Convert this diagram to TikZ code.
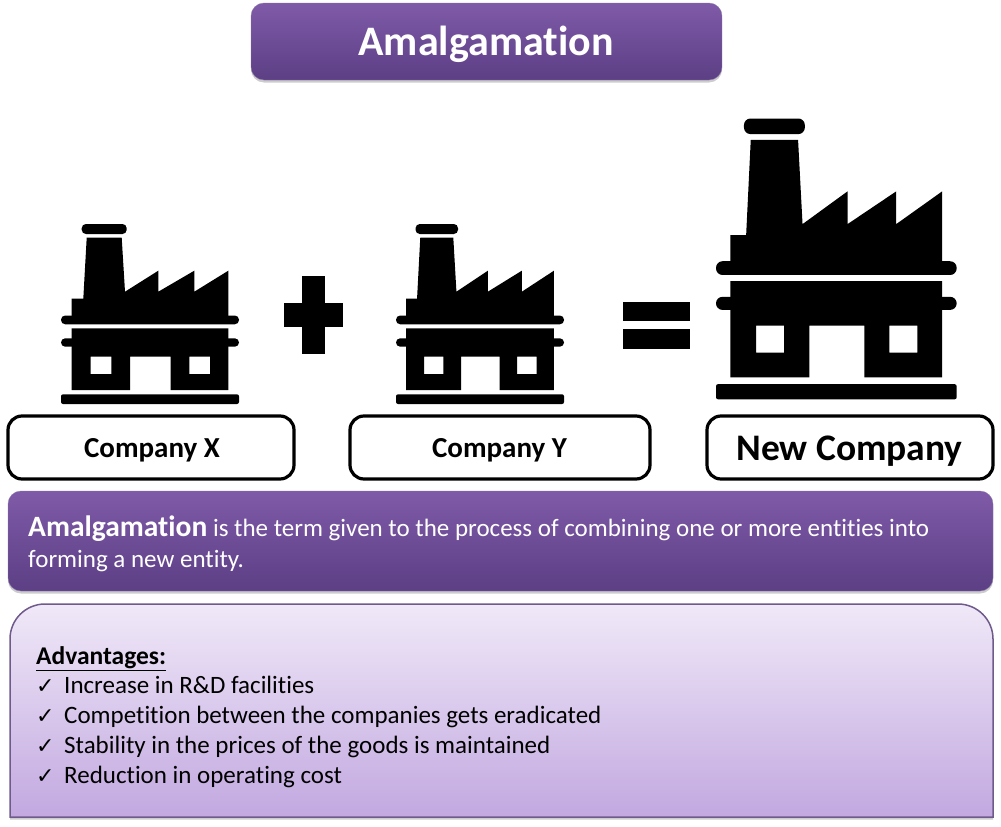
\documentclass[tikz,border=0pt]{standalone}
\usepackage{fontspec}
\setmainfont{Carlito}[Ligatures=NoCommon]
\newfontfamily\checkfont{DejaVu Sans}
\usetikzlibrary{shadows,calc}
\definecolor{purpleTop}{HTML}{7F5AA8}
\definecolor{purpleBot}{HTML}{5C3F85}
\definecolor{lilacTop}{HTML}{F0E9F8}
\definecolor{lilacBot}{HTML}{C2A8E0}
\definecolor{lilacEdge}{HTML}{6F5A8C}
\begin{document}
\begin{tikzpicture}[x=1pt,y=-1pt,line cap=butt]
  % stijlen
  \tikzset{
    banner/.style={rounded corners=13pt,top color=purpleTop,bottom color=purpleBot,draw=purpleBot!70,
      drop shadow={shadow xshift=0pt,shadow yshift=-2.5pt,opacity=.4}},
    namebox/.style={draw=black,line width=3.2pt,fill=white,rounded corners=14pt},
    namelabel/.style={font=\bfseries\fontsize{29}{30}\selectfont,text=black},
    adv/.style={anchor=base west,inner sep=0pt,font=\fontsize{25}{30}\selectfont,text=black},
    tick/.style={anchor=base west,inner sep=0pt,font=\checkfont\fontsize{22}{24}\selectfont,text=black},
    factory/.pic={
      \fill[rounded corners=#1pt] (20.7,0) rectangle (65.7,10);
      \fill (25.7,13.7) -- (60.7,13.7) -- (64,67.7) -- (97.3,46.7) -- (97.3,67.7) -- (133.3,46.7)
        -- (133.3,67.7) -- (167.3,46.7) -- (167.3,92) -- (10.7,92) -- (10.7,74.7) -- (22.3,74.7) -- cycle;
      \fill[rounded corners=#1pt] (0,91.5) rectangle (178,100.3);
      \fill[rounded corners=#1pt] (0,114.3) rectangle (178,122.7);
      \fill[even odd rule] (10.7,104.3) -- (167.3,104.3) -- (167.3,166) -- (109.7,166) -- (109.7,132.7)
        -- (69,132.7) -- (69,166) -- (10.7,166) -- cycle
        (29.7,132.7) rectangle (50.3,150) (128.3,132.7) rectangle (149,150);
      \fill[rounded corners=2pt] (0,170.3) rectangle (178,180);
    }
  }
  \useasboundingbox (0,0) rectangle (1001,827);
  % titel
  \node[banner,minimum width=471pt,minimum height=77pt] (title) at (486.5,41.5) {};
  \node[font=\bfseries\fontsize{42}{46}\selectfont,text=white] (titletext) at (486,44) {Amalgamation};
  % fabrieken
  \pic at (61,224) {factory=4.2};
  \pic[xscale=.944] at (396,224) {factory=4.2};
  \pic[xscale=1.352,yscale=1.56] at (716,118.5) {factory=6.5};
  % plus en is
  \fill (284,303) rectangle (343,327);
  \fill (302,276) rectangle (325,354);
  \fill (623,302) rectangle (690,321);
  \fill (623,329) rectangle (690,349);
  % namen
  \node[namebox,minimum width=286pt,minimum height=63pt] (boxX) at (151,447.5) {};
  \node[namelabel] (nameX) at (152,450) {Company X};
  \node[namebox,minimum width=300pt,minimum height=63pt] (boxY) at (500,447.5) {};
  \node[namelabel] (nameY) at (499.5,450) {Company Y};
  \node[namebox,minimum width=286pt,minimum height=63pt] (boxNew) at (850,447.5) {};
  \node[namelabel,font=\bfseries\fontsize{37.5}{40}\selectfont] (nameNew) at (849.5,451.5) {New Company};
  % uitleg
  \node[banner,minimum width=985pt,minimum height=100pt] (defbox) at (500.5,541) {};
  \node[anchor=base west,inner sep=0pt,text=white,font=\fontsize{25}{30}\selectfont] (defone) at (28,536)
    {{\bfseries\fontsize{29.5}{30}\selectfont Amalgamation} is the term given to the process of combining one or more entities into};
  \node[anchor=base west,inner sep=0pt,text=white,font=\fontsize{25}{30}\selectfont] (deftwo) at (28,567) {forming a new entity.};
  % voordelen
  \shade[top color=lilacTop,bottom color=lilacBot,draw=lilacEdge,line width=1.5pt,
    drop shadow={shadow xshift=0pt,shadow yshift=-2.5pt,opacity=.4}]
    (10,817) -- (10,639) arc[start angle=180,end angle=90,radius=35pt] -- (958,604)
    arc[start angle=90,end angle=0,radius=35pt] -- (993,817) -- cycle;
  \node[adv,font=\bfseries\fontsize{25.5}{30}\selectfont] (advhead) at (36,664) {\underline{Advantages:}};
  \node[tick] (tickA) at (36,693) {✓};
  \node[adv] (advA) at (64,693) {Increase in R\&D facilities};
  \node[tick] (tickB) at (36,723) {✓};
  \node[adv] (advB) at (64,723) {Competition between the companies gets eradicated};
  \node[tick] (tickC) at (36,753) {✓};
  \node[adv] (advC) at (64,753) {Stability in the prices of the goods is maintained};
  \node[tick] (tickD) at (36,783) {✓};
  \node[adv] (advD) at (64,783) {Reduction in operating cost};
\end{tikzpicture}
\end{document}
